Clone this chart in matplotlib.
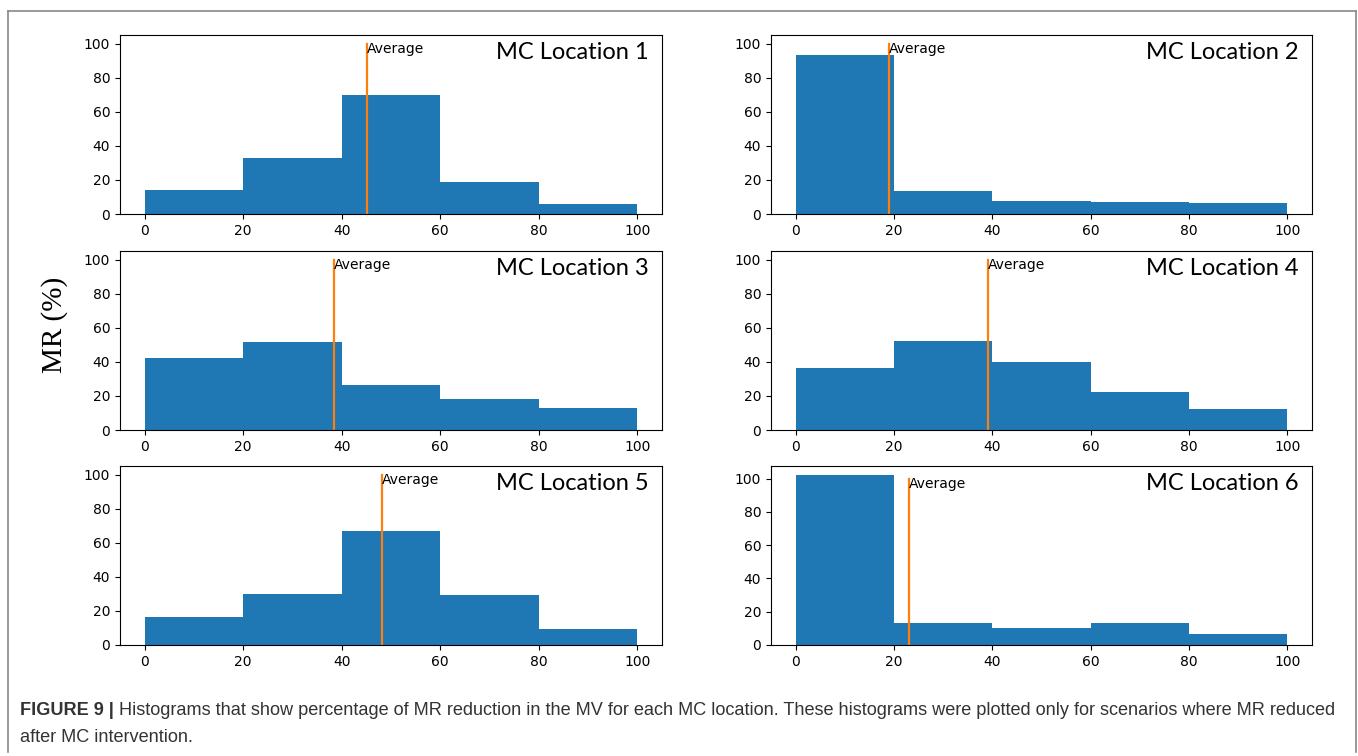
import matplotlib
matplotlib.use("Agg")
import matplotlib.pyplot as plt
from matplotlib.lines import Line2D

edges = [0, 20, 40, 60, 80, 100]

loc1 = [14.1, 33.1, 69.6, 19.0, 5.9]
loc2 = [93.5, 13.7, 7.6, 6.8, 6.7]
loc3 = [42.3, 51.6, 26.2, 17.9, 13.1]
loc4 = [36.5, 52.5, 40.0, 22.3, 12.2]
loc5 = [16.3, 30.1, 67.0, 29.5, 9.3]
loc6 = [102.4, 13.5, 10.3, 13.5, 6.4]

averages = [45.2, 19.0, 38.5, 39.1, 48.2, 23.0]
titles = ["MC Location 1", "MC Location 2", "MC Location 3",
          "MC Location 4", "MC Location 5", "MC Location 6"]
heights = [loc1, loc2, loc3, loc4, loc5, loc6]

W, H = 1358, 756
fig = plt.figure(figsize=(W / 100, H / 100), dpi=100)

col_left = [120, 771]
col_width = [542, 541]
row_top = [35, 251, 466]
row_h = 179

for i in range(6):
    r, c = divmod(i, 2)
    ax = fig.add_axes([col_left[c] / W, 1 - (row_top[r] + row_h) / H,
                       col_width[c] / W, row_h / H])
    ax.hist(edges[:-1], bins=edges, weights=heights[i], color="#1f77b4")
    avg = averages[i]
    ax.plot([avg, avg], [0, 100], color="#ff7f0e", lw=1.6)
    ax.text(avg, 101, "Average", fontsize=10, va="top", ha="left")
    ax.text(0.975, 0.96, titles[i], transform=ax.transAxes, ha="right",
            va="top", fontsize=17, family="Lato")
    ax.tick_params(labelsize=10)

fig.text(55 / W, 1 - 325 / H, "MR (%)", rotation=90, fontsize=21,
         family="Liberation Serif", ha="center", va="center")

# caption
cap_kw = dict(fontsize=13.1, family="Liberation Sans", color="#333333")
t1 = fig.text(20 / W, 1 - 715 / H, "FIGURE 9 |", fontweight="bold", **cap_kw)
fig.canvas.draw()
bb = t1.get_window_extent(renderer=fig.canvas.get_renderer())
fig.text((bb.x1 + 5) / W, 1 - 715 / H,
         "Histograms that show percentage of MR reduction in the MV for each MC location. "
         "These histograms were plotted only for scenarios where MR reduced", **cap_kw)
fig.text(20 / W, 1 - 742 / H, "after MC intervention.", **cap_kw)

# frame around figure
for xs, ys in [([8, 8], [11, 752]), ([8, 1356], [11, 11]), ([1356, 1356], [11, 752])]:
    fig.add_artist(Line2D([x / W for x in xs], [1 - y / H for y in ys],
                          color="#888888", lw=1.2, transform=fig.transFigure))

fig.savefig("out.png", dpi=100)
